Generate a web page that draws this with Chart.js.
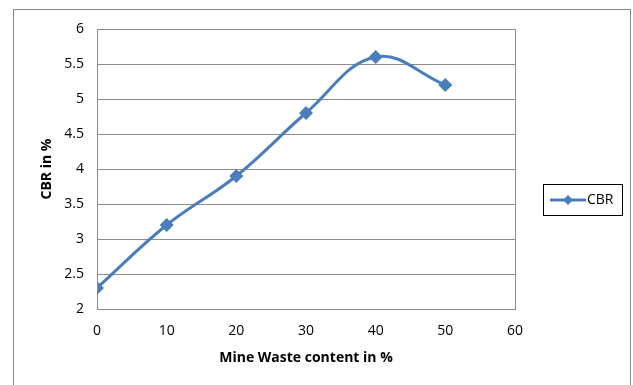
<!DOCTYPE html>
<html>
<head>
<meta charset="utf-8">
<script src="https://cdn.jsdelivr.net/npm/chart.js@4.4.0/dist/chart.umd.min.js"></script>
<style>
  html, body { margin: 0; padding: 0; background: #fff; }
  #wrap { width: 633px; height: 385px; position: relative; }
</style>
</head>
<body>
<div id="wrap"><canvas id="cbrChart" width="633" height="385"></canvas></div>
<script>
// mine waste content (%) and CBR (%)
const wasteContent = [0, 10, 20, 30, 40, 50];
const cbrValues = [2.3, 3.2, 3.9, 4.8, 5.6, 5.2];
const seriesName = 'CBR';

const blue = '#4A7EBB';
const gridGray = '#8c8c8c';
const fontName = "'Open Sans', 'Liberation Sans', sans-serif";

// outer frame + plot border + legend drawn by hand (Excel look)
const frameAndLegend = {
  id: 'frameAndLegend',
  afterDraw(chart) {
    const ctx = chart.ctx;
    const a = chart.chartArea;
    ctx.save();
    ctx.strokeStyle = '#888';
    ctx.lineWidth = 1;
    ctx.strokeRect(13.5, 9.5, 617, 390);
    ctx.strokeStyle = gridGray;
    ctx.strokeRect(Math.round(a.left) + 0.5, Math.round(a.top) + 0.5,
                   Math.round(a.right - a.left), Math.round(a.bottom - a.top));

    // legend box
    ctx.strokeStyle = '#000';
    ctx.strokeRect(543.5, 184.5, 79, 31);
    const ds = chart.data.datasets[0];
    ctx.strokeStyle = ds.borderColor;
    ctx.lineWidth = 3;
    ctx.beginPath();
    ctx.moveTo(550, 200);
    ctx.lineTo(586, 200);
    ctx.stroke();
    ctx.fillStyle = ds.borderColor;
    ctx.beginPath();
    ctx.moveTo(568, 195); ctx.lineTo(573, 200); ctx.lineTo(568, 205); ctx.lineTo(563, 200);
    ctx.closePath();
    ctx.fill();
    ctx.fillStyle = '#000';
    ctx.font = '14px ' + fontName;
    ctx.textBaseline = 'middle';
    ctx.fillText(ds.label, 587, 200);
    ctx.restore();
  }
};

new Chart(document.getElementById('cbrChart'), {
  type: 'line',
  data: {
    datasets: [{
      label: seriesName,
      data: wasteContent.map((x, i) => ({ x: x, y: cbrValues[i] })),
      borderColor: blue,
      backgroundColor: blue,
      borderWidth: 3,
      tension: 0.4,
      pointStyle: 'rectRot',
      pointRadius: 7,
      pointHoverRadius: 7,
      pointBorderWidth: 0
    }]
  },
  options: {
    responsive: false,
    animation: false,
    layout: { padding: { left: 36, right: 118, top: 29, bottom: 16 } },
    plugins: { legend: { display: false }, tooltip: { enabled: false } },
    scales: {
      x: {
        type: 'linear',
        min: 0, max: 60,
        ticks: { stepSize: 10, color: '#000', padding: 14, font: { family: fontName, size: 14 } },
        grid: { display: false, drawTicks: false },
        border: { display: false },
        title: { display: true, text: 'Mine Waste content in %', color: '#000',
                 font: { family: fontName, size: 14, weight: 'bold' }, padding: 3 },
        afterFit(scale) { scale.height = 60; }
      },
      y: {
        min: 2, max: 6,
        ticks: { stepSize: 0.5, color: '#000', padding: 13, font: { family: fontName, size: 14 },
                 callback: (v) => String(Number(v)) },
        grid: { color: gridGray, drawTicks: false },
        border: { display: false },
        title: { display: true, text: 'CBR in %', color: '#000',
                 font: { family: fontName, size: 14, weight: 'bold' }, padding: 3 },
        afterFit(scale) { scale.width = 61; }
      }
    }
  },
  plugins: [frameAndLegend]
});
</script>
</body>
</html>
